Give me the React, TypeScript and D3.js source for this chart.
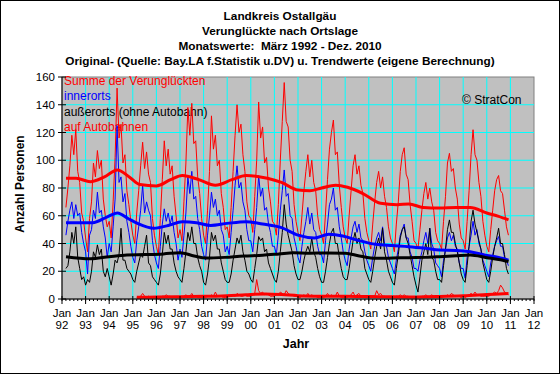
import React from "react";
import * as d3 from "d3";

const W = 560;
const H = 374;

const titleLines = [
  "Landkreis Ostallgäu",
  "Verunglückte nach Ortslage",
  "Monatswerte:  März 1992 - Dez. 2010",
  "Original- (Quelle: Bay.LA f.Statistik u.DV) u. Trendwerte (eigene Berechnung)",
];

const legendLabels = ["Summe der Verunglückten", "innerorts", "außerorts (ohne Autobahn)", "auf Autobahnen"];
const legendColors = ["#ff0000", "#0000ff", "#000000", "#ff0000"];

const yearLabels = ["92","93","94","95","96","97","98","99","00","01","02","03","04","05","06","07","08","09","10","11","12"];
const yTicks = [0, 20, 40, 60, 80, 100, 120, 140, 160];

// monthly data, March 1992 .. December 2010
const startYear = 1992;
const startMonth = 2; // March (0-based)

const summe = [
  66, 80, 96, 118, 104, 122, 92, 84, 62, 56,
  44, 34, 58, 70, 98, 88, 107, 94, 100, 72, 60, 52,
  56, 44, 70, 102, 152, 116, 126, 98, 104, 78, 68, 56,
  46, 40, 62, 78, 96, 113, 94, 106, 90, 84, 58, 46,
  38, 32, 58, 86, 114, 96, 108, 90, 96, 74, 60, 44,
  50, 42, 70, 98, 138, 118, 141, 112, 114, 88, 76, 58,
  46, 40, 64, 92, 132, 108, 118, 96, 100, 76, 66, 50,
  52, 44, 66, 92, 118, 140, 120, 126, 104, 92, 70, 60,
  58, 48, 74, 100, 142, 116, 124, 98, 102, 80, 70, 56,
  54, 46, 68, 100, 128, 156, 128, 124, 100, 92, 68, 56,
  48, 42, 60, 78, 92, 104, 88, 100, 84, 78, 60, 50,
  46, 40, 62, 86, 108, 120, 129, 104, 106, 82, 66, 52,
  44, 40, 60, 78, 96, 104, 90, 96, 82, 76, 58, 48,
  42, 36, 54, 70, 84, 92, 80, 88, 74, 66, 52, 44,
  40, 34, 54, 70, 92, 104, 109, 90, 86, 68, 56, 42,
  40, 36, 50, 64, 76, 84, 72, 80, 70, 64, 48, 42,
  40, 36, 56, 74, 98, 105, 92, 94, 80, 72, 54, 44,
  42, 36, 56, 78, 104, 122, 104, 100, 84, 74, 56, 46,
  38, 34, 50, 64, 78, 86, 89, 78, 76, 64, 52, 46,
];

const innerorts = [
  46, 56, 64, 70, 58, 68, 60, 62, 48, 40,
  34, 18, 46, 50, 64, 58, 77, 62, 64, 52, 44, 30,
  40, 34, 52, 72, 125, 84, 88, 70, 76, 56, 48, 38,
  30, 26, 42, 52, 64, 82, 62, 70, 64, 60, 42, 32,
  26, 22, 38, 54, 65, 56, 62, 54, 60, 48, 40, 28,
  36, 30, 46, 62, 88, 76, 92, 72, 74, 58, 50, 38,
  32, 28, 46, 60, 77, 66, 72, 60, 64, 50, 46, 34,
  38, 32, 48, 64, 82, 96, 80, 84, 70, 64, 50, 42,
  42, 34, 50, 66, 89, 74, 80, 64, 66, 54, 48, 38,
  38, 32, 46, 64, 78, 93, 74, 76, 60, 58, 44, 38,
  30, 26, 38, 48, 56, 66, 54, 62, 50, 48, 38, 32,
  32, 26, 42, 54, 68, 72, 80, 64, 66, 52, 44, 34,
  28, 24, 36, 44, 52, 56, 48, 54, 44, 42, 34, 28,
  24, 20, 30, 38, 44, 48, 42, 52, 40, 38, 30, 26,
  22, 18, 28, 36, 46, 50, 54, 44, 44, 34, 30, 22,
  22, 20, 28, 34, 42, 48, 40, 51, 40, 36, 26, 24,
  22, 16, 28, 36, 44, 48, 42, 46, 38, 36, 26, 22,
  22, 15, 30, 38, 46, 56, 46, 50, 40, 36, 28, 24,
  20, 16, 26, 32, 38, 42, 45, 38, 38, 30, 28, 24,
];

const ausserorts = [
  22, 24, 34, 48, 40, 52, 30, 22, 14, 16,
  10, 14, 12, 20, 34, 30, 39, 32, 36, 20, 16, 22,
  16, 10, 18, 28, 26, 32, 51, 28, 28, 22, 20, 18,
  14, 12, 20, 26, 32, 30, 38, 46, 26, 24, 16, 14,
  12, 10, 18, 32, 48, 40, 46, 36, 36, 26, 20, 16,
  14, 12, 22, 34, 48, 42, 52, 40, 40, 30, 24, 20,
  12, 10, 18, 30, 48, 42, 46, 36, 36, 26, 20, 14,
  12, 12, 18, 28, 36, 44, 40, 46, 34, 28, 20, 18,
  14, 12, 22, 32, 45, 42, 44, 34, 36, 26, 22, 18,
  14, 12, 20, 34, 48, 68, 54, 46, 40, 34, 24, 18,
  14, 14, 20, 28, 34, 38, 34, 44, 34, 30, 22, 16,
  12, 12, 20, 30, 40, 48, 51, 40, 40, 30, 22, 16,
  14, 14, 22, 32, 42, 48, 40, 44, 36, 34, 22, 18,
  14, 12, 20, 30, 38, 44, 36, 51, 34, 28, 20, 16,
  12, 10, 22, 32, 44, 50, 52, 44, 40, 32, 24, 16,
  10, 5, 16, 28, 34, 40, 32, 51, 30, 28, 20, 14,
  14, 12, 24, 36, 50, 57, 48, 48, 40, 34, 26, 18,
  14, 12, 24, 38, 56, 64, 54, 48, 42, 36, 26, 20,
  14, 12, 20, 30, 38, 44, 51, 40, 40, 32, 22, 18,
];

const autobahn: (number | null)[] = [
  null, null, null, null, null, null, null, null, null, null,
  null, null, null, null, null, null, null, null, null, null, null, null,
  null, null, null, null, null, null, null, null, null, null, null, null,
  null, null, 1, 1, 2, 4, 2, 1, 2, 1, 1, 1,
  1, 0, 1, 2, 2, 3, 2, 2, 1, 2, 1, 1,
  1, 1, 2, 3, 2, 2, 4, 2, 2, 1, 1, 1,
  1, 1, 2, 2, 3, 2, 5, 2, 2, 2, 1, 1,
  1, 2, 2, 3, 2, 4, 3, 2, 2, 3, 2, 2,
  2, 3, 4, 14, 6, 4, 5, 3, 4, 3, 2, 2,
  2, 3, 3, 5, 4, 3, 6, 4, 3, 3, 2, 2,
  1, 1, 2, 3, 2, 4, 2, 3, 2, 2, 1, 1,
  1, 1, 2, 4, 2, 3, 2, 2, 5, 2, 1, 1,
  1, 1, 2, 3, 5, 2, 3, 4, 2, 2, 1, 1,
  1, 1, 2, 2, 6, 3, 4, 2, 2, 1, 1, 1,
  1, 1, 2, 2, 3, 2, 3, 2, 2, 1, 1, 1,
  1, 1, 1, 2, 2, 3, 2, 2, 3, 2, 1, 1,
  1, 1, 2, 2, 3, 2, 4, 3, 2, 2, 2, 1,
  2, 1, 2, 3, 4, 3, 5, 3, 3, 2, 2, 2,
  2, 2, 3, 4, 5, 4, 6, 10, 8, 5, 4, 3,
];

// trend curves: [decimal year, value]
const trendSumme: [number, number][] = [
  [1992.17, 87], [1992.6, 87], [1993.2, 84.5], [1993.8, 88], [1994.35, 93], [1994.85, 88],
  [1995.3, 82.5], [1996.0, 81.5], [1996.6, 86], [1997.1, 89], [1997.8, 86], [1998.5, 82],
  [1999.2, 86], [1999.8, 89], [2000.7, 87], [2001.3, 84], [2002.0, 78.5], [2002.5, 78],
  [2003.0, 80], [2003.6, 82], [2004.1, 80.5], [2004.75, 76], [2005.5, 69], [2006.2, 68],
  [2006.7, 68.5], [2007.3, 66], [2008.0, 65.5], [2008.7, 66], [2009.3, 66], [2010.0, 62],
  [2010.5, 59.5], [2010.92, 57],
];
const trendInner: [number, number][] = [
  [1992.17, 55], [1993.3, 55], [1993.9, 59], [1994.35, 62], [1994.8, 58], [1995.2, 54.5],
  [1995.9, 51], [1996.5, 53], [1997.1, 55.7], [1997.7, 55], [1998.3, 53], [1999.0, 54.5],
  [1999.8, 55.7], [2000.5, 54], [2001.3, 51.4], [2002.0, 46], [2002.7, 44], [2003.3, 46.6],
  [2003.9, 45.4], [2004.5, 42.5], [2005.3, 39.4], [2006.0, 38.5], [2006.7, 37.7],
  [2007.4, 36.5], [2008.0, 35.3], [2008.7, 35], [2009.3, 34], [2009.9, 31.7], [2010.5, 30],
  [2010.92, 28],
];
const trendAusser: [number, number][] = [
  [1992.17, 30.5], [1993.2, 29], [1994.0, 30.5], [1994.75, 31.7], [1995.5, 32], [1996.3, 32.5],
  [1997.0, 33.4], [1997.6, 31], [1998.1, 29.5], [1998.9, 30], [1999.7, 31], [2000.5, 31.5],
  [2001.2, 32.5], [2001.8, 33.4], [2002.5, 33], [2003.2, 33.2], [2004.0, 33], [2004.6, 31],
  [2005.3, 29.3], [2006.0, 29.5], [2006.7, 29.8], [2007.4, 30], [2008.0, 30.5], [2008.7, 31.2],
  [2009.3, 31.7], [2010.0, 29.8], [2010.5, 28.5], [2010.92, 27],
];
const trendAutobahn: [number, number][] = [
  [1995.17, 1.2], [1996.0, 1.4], [1997.0, 1.7], [1998.0, 1.9], [1999.0, 2.4], [1999.8, 3.1],
  [2000.6, 3.6], [2001.3, 3.2], [2002.0, 2.4], [2003.0, 2.0], [2004.0, 1.9], [2005.0, 1.8],
  [2006.0, 1.6], [2007.0, 1.5], [2008.0, 1.8], [2009.0, 2.3], [2010.0, 3.2], [2010.92, 4.0],
];

const PL = 62, PR = 534, PT = 77, PB = 299;
const FONT = "Arial, 'Liberation Sans', sans-serif";

export default function App() {
  const x = d3.scaleLinear().domain([1992, 2012]).range([PL, PR]);
  const y = d3.scaleLinear().domain([0, 160]).range([PB, PT]);
  const monthDate = (i: number) => startYear + (startMonth + i) / 12;

  const rawLine = d3
    .line<number | null>()
    .defined((d) => d !== null)
    .x((_, i) => x(monthDate(i)))
    .y((d) => y(d as number));
  const trendLine = d3
    .line<[number, number]>()
    .x((d) => x(d[0]))
    .y((d) => y(d[1]))
    .curve(d3.curveMonotoneX);

  const years = d3.range(1992, 2013);
  const minorTicks = d3.range(0, 20 * 6 + 1).map((k) => 1992 + k / 6);

  return (
    <svg
      width={W}
      height={H}
      style={{ position: "absolute", left: 0, top: 0, background: "#fff" }}
      fontFamily={FONT}
    >
      <rect x={0.5} y={0.5} width={W - 1} height={H - 1} fill="#fff" stroke="#000" />
      {titleLines.map((t, i) => (
        <text
          key={i}
          x={280}
          y={20 + i * 15}
          textAnchor="middle"
          fontSize={11.8}
          fontWeight="bold"
          fill="#000"
          style={{ whiteSpace: "pre" }}
        >
          {t}
        </text>
      ))}

      <rect x={PL} y={PT} width={PR - PL} height={PB - PT} fill="#c0c0c0" stroke="#808080" />
      {yTicks.slice(1, -1).map((v) => (
        <line key={"gy" + v} x1={PL} x2={PR} y1={y(v)} y2={y(v)} stroke="#00ffff" strokeWidth={1} />
      ))}
      {years.slice(1, -1).map((yr) => (
        <line key={"gx" + yr} x1={x(yr)} x2={x(yr)} y1={PT} y2={PB} stroke="#00ffff" strokeWidth={1} />
      ))}

      {legendLabels.map((t, i) => (
        <text key={t} x={64} y={85 + i * 15.3} fontSize={12} fill={legendColors[i]}>
          {t}
        </text>
      ))}
      <text x={462} y={104} fontSize={12} fill="#000">© StratCon</text>

      <path d={rawLine(summe) || ""} fill="none" stroke="#ff0000" strokeWidth={1} />
      <path d={rawLine(innerorts) || ""} fill="none" stroke="#0000ff" strokeWidth={1} />
      <path d={rawLine(ausserorts) || ""} fill="none" stroke="#000000" strokeWidth={1} />
      <path d={rawLine(autobahn) || ""} fill="none" stroke="#ff0000" strokeWidth={1} />

      <path d={trendLine(trendSumme) || ""} fill="none" stroke="#ff0000" strokeWidth={3} />
      <path d={trendLine(trendInner) || ""} fill="none" stroke="#0000ff" strokeWidth={3} />
      <path d={trendLine(trendAusser) || ""} fill="none" stroke="#000000" strokeWidth={3} />
      <path d={trendLine(trendAutobahn) || ""} fill="none" stroke="#ff0000" strokeWidth={3} />

      {/* axes */}
      <line x1={PL} x2={PL} y1={PT} y2={PB + 0.5} stroke="#000" />
      <line x1={PL} x2={PR} y1={PB} y2={PB} stroke="#000" />
      {yTicks.map((v) => (
        <g key={"ty" + v}>
          <line x1={PL - 4} x2={PL + 4} y1={y(v)} y2={y(v)} stroke="#000" />
          <text x={55} y={y(v)} dy="0.35em" textAnchor="end" fontSize={11.5} fill="#000">
            {v}
          </text>
        </g>
      ))}
      {minorTicks.map((m, k) => (
        <line key={"mx" + k} x1={x(m)} x2={x(m)} y1={PB} y2={PB + 2} stroke="#000" />
      ))}
      {years.map((yr, i) => (
        <g key={"tx" + yr}>
          <line x1={x(yr)} x2={x(yr)} y1={PB - 3} y2={PB + 5} stroke="#000" />
          <text x={x(yr)} y={317} textAnchor="middle" fontSize={11.5} fill="#000">Jan</text>
          <text x={x(yr)} y={329} textAnchor="middle" fontSize={11.5} fill="#000">{yearLabels[i]}</text>
        </g>
      ))}
      <text x={296} y={348} textAnchor="middle" fontSize={12.5} fontWeight="bold" fill="#000">Jahr</text>
      <text
        transform={`translate(24,${184}) rotate(-90)`}
        textAnchor="middle"
        fontSize={12}
        fontWeight="bold"
        fill="#000"
      >
        Anzahl Personen
      </text>
    </svg>
  );
}
